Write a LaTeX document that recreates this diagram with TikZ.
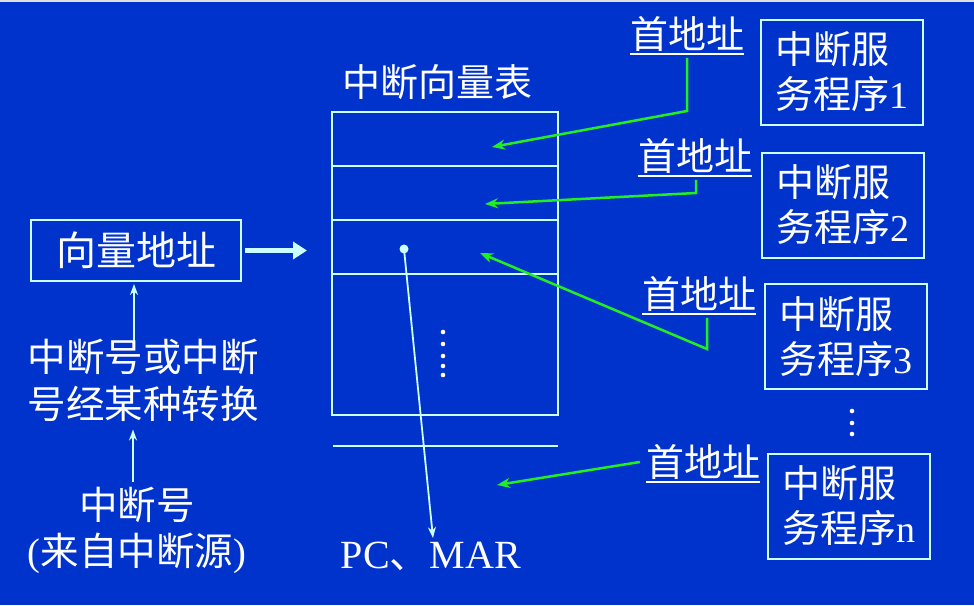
\documentclass[tikz,border=0pt]{standalone}
\usepackage{fontspec}
\setmainfont{Liberation Serif}
\newfontfamily\cjk{Noto Sans CJK SC}
\usetikzlibrary{arrows.meta}
\definecolor{bg}{HTML}{0033CC}
\definecolor{lc}{HTML}{CCFFFF}
\definecolor{gr}{HTML}{22EE22}
\begin{document}
\begin{tikzpicture}[x=1pt,y=-1pt,
  big/.style={font=\fontsize{38}{45}\selectfont},
  txt/.style={big,text=white,inner sep=0pt,align=center},
  cjkt/.style={txt,font=\fontsize{38}{45}\selectfont\cjk},
  progbox/.style={big,draw=lc,line width=2pt,text=white,align=left,inner sep=0pt,minimum width=162pt,minimum height=105pt},
  tline/.style={draw=lc,line width=2pt},
  garrow/.style={draw=gr,line width=2.5pt,-{Stealth[length=13pt,width=10pt]}},
  larrow/.style={draw=lc,line width=1.8pt,-{Stealth[length=11pt,width=8pt]}},
]
\useasboundingbox (0,0) rectangle (974,605);
\fill[bg] (0,0) rectangle (974,605);
\fill[gray!25] (0,0) rectangle (974,2);

% table
\node[cjkt] (title) at (437,82) {中断向量表};
\node[draw=lc,line width=2pt,minimum width=226pt,minimum height=303pt,inner sep=0pt] (tab) at (445,263.5) {};
\draw[tline] (332,166) -- (558,166);
\draw[tline] (332,220) -- (558,220);
\draw[tline] (332,274) -- (558,274);
\draw[tline] (333,446) -- (558,446);
\foreach \yy in {332,344,356,366,375} \fill[white] (443,\yy) circle (2.3);

% PC MAR
\node[txt,font=\fontsize{40}{48}\selectfont] (pc) at (431,556) {PC{\cjk 、}MAR};
\coordinate (dot) at (404,249);
\coordinate (pctop) at (433,538);
\fill[lc] (dot) circle (4.5);
\draw[larrow] (dot) -- (pctop);

% left side
\node[draw=lc,line width=2pt,txt,font=\fontsize{40}{45}\selectfont\cjk,minimum width=210pt,minimum height=61pt] (vbox) at (136,250.5) {向量地址};
\node[txt,font=\fontsize{38.5}{47}\selectfont\cjk] (num) at (143,380) {中断号或中断\\号经某种转换};
\node[txt,font=\fontsize{38.5}{46}\selectfont] (src) at (137,530) {{\cjk 中断号}\\({\cjk 来自中断源})};
\draw[larrow] ([yshift=-2pt]num.north -| 134,0) -- ([yshift=-2pt]vbox.south -| 134,0);
\draw[larrow] (133,482) -- ([yshift=-8pt]num.south -| 133,0);
\draw[draw=lc,line width=5pt,-{Triangle[length=14pt,width=17pt]}] ([xshift=3pt]vbox.east) -- ([xshift=-24pt]tab.west |- vbox.east);

% right side: first addresses
\node[cjkt] (a1) at (687,34) {首地址};
\node[cjkt] (a2) at (695,156) {首地址};
\node[cjkt] (a3) at (699,294) {首地址};
\node[cjkt] (a4) at (703,462) {首地址};
\foreach \n in {a1,a2,a3,a4}
  \draw[white,line width=1.6pt] ([yshift=-2pt]\n.south west) -- ([yshift=-2pt]\n.south east);

% program boxes
\node[progbox] (p1) at (842,72) {{\cjk 中断服}\\{\cjk 务程序}1};
\node[progbox] (p2) at (843,205) {{\cjk 中断服}\\{\cjk 务程序}2};
\node[progbox] (p3) at (845.5,336.5) {{\cjk 中断服}\\{\cjk 务程序}3};
\node[progbox] (p4) at (848.5,506) {{\cjk 中断服}\\{\cjk 务程序}n};
\foreach \yy in {411,423,434} \fill[white] (852,\yy) circle (2.3);

% green connectors
\coordinate (b1) at (687,111);
\coordinate (t1) at (492,147);
\coordinate (b2) at (696,193);
\coordinate (t2) at (485,204);
\coordinate (b3) at (707,349);
\coordinate (t3) at (480,253);
\coordinate (t4) at (497,485);
\draw[garrow] ([yshift=-6pt]a1.south -| b1) -- (b1) -- (t1);
\draw[garrow] ([yshift=-6pt]a2.south -| b2) -- (b2) -- (t2);
\draw[garrow] ([yshift=-6pt]a3.south -| b3) -- (b3) -- (t3);
\draw[garrow] ([xshift=-6pt]a4.west) -- (t4);
\end{tikzpicture}
\end{document}
